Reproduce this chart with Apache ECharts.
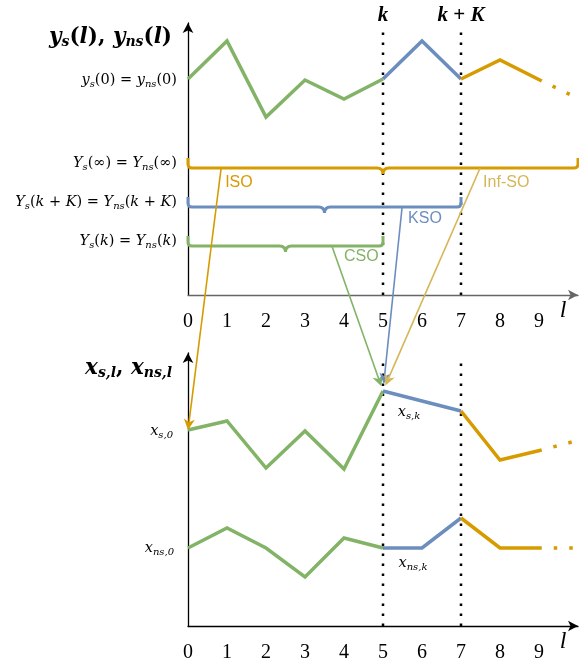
<!DOCTYPE html>
<html><head><meta charset="utf-8">
<script src="https://cdn.jsdelivr.net/npm/echarts@6/dist/echarts.min.js"></script>
<style>html,body{margin:0;padding:0;background:#fff}#c{width:579px;height:667px}</style>
</head><body><div id="c"></div>
<script>
// ---------------- data ----------------
const lSteps   = [0, 1, 2, 3, 4, 5, 6, 7, 8, 9.07];
const yOut     = [10.8, 12.7, 8.9, 10.75, 9.8, 10.8, 12.7, 10.8, 11.75, 10.7];   // y_s(l) = y_ns(l)
const xState   = [9.8, 10.25, 7.9, 9.75, 7.85, 11.75, 11.25, 10.75, 8.3, 8.8];   // x_{s,l}
const xnsState = [3.9, 4.9, 3.9, 2.45, 4.4, 3.9, 3.9, 5.4, 3.9, 3.9];            // x_{ns,l}
const tailL    = [9.82, 9.9, 9.9];      // end of the dotted continuation
const tailV    = [10.0, 9.23, 3.9];
const tickLabels = ['0','1','2','3','4','5','6','7','8','9'];
const kStep = 5, kKStep = 7;
const markerL = [5, 7];
const markerText = ['{b|k}', '{b|k}{br| + }{b|K}'];

const braceNames = ['ISO', 'KSO', 'CSO'];
const braceFrom  = [0, 0, 0];
const braceTo    = [10, 7, 5];
const braceLevel = [6.35, 4.4, 2.45];
const braceText  = [
  '{i|Y}{s|s}{r|(∞) = }{i|Y}{s|ns}{r|(∞)}',
  '{i|Y}{s|s}{r|(}{i|k}{r| + }{i|K}{r|) = }{i|Y}{s|ns}{r|(}{i|k}{r| + }{i|K}{r|)}',
  '{i|Y}{s|s}{r|(}{i|k}{r|) = }{i|Y}{s|ns}{r|(}{i|k}{r|)}'
];

const arrowNames     = ['ISO', 'CSO', 'KSO', 'Inf-SO'];
const arrowFromL     = [0.85, 3.69, 5.49, 7.49];
const arrowFromLevel = [6.35, 2.45, 4.4, 6.35];
const arrowToL       = [0, 5, 5, 5];
const arrowToV       = [9.8, 11.75, 11.75, 11.75];

// ---------------- styles ----------------
const GREEN = '#82b366', BLUE = '#6c8ebf', ORANGE = '#d79b00', TAN = '#d6b656';
const SERIF = "'Liberation Serif','DejaVu Serif',serif";
const MATH = "'DejaVu Serif','Liberation Serif',serif";
const SANS = "'Liberation Sans','DejaVu Sans',sans-serif";
const braceColor = {ISO: ORANGE, KSO: BLUE, CSO: GREEN};
const arrowStyle = {
  'ISO':    {color: ORANGE, dx: 4,  dy: 15, gap: 0},
  'CSO':    {color: GREEN,  dx: 12, dy: 11, gap: 5},
  'KSO':    {color: BLUE,   dx: 6,  dy: 12, gap: 7},
  'Inf-SO': {color: TAN,    dx: 3,  dy: 15, gap: 6}
};
function mathRich(size, sub, bold, fam) {
  const w = bold ? 'bold' : 'normal';
  const f = fam || MATH;
  return {
    i: {fontFamily: f, fontStyle: 'italic', fontWeight: w, fontSize: size, lineHeight: size + 4, color: '#000'},
    r: {fontFamily: f, fontWeight: w, fontSize: size, lineHeight: size + 4, color: '#000'},
    s: {fontFamily: f, fontStyle: 'italic', fontWeight: w, fontSize: sub, lineHeight: sub - 1, verticalAlign: 'bottom', color: '#000'},
    b: {fontFamily: f, fontStyle: 'italic', fontWeight: 'bold', fontSize: size, color: '#000'},
    br: {fontFamily: f, fontWeight: 'bold', fontSize: size, color: '#000'}
  };
}
const richSmall = mathRich(14.5, 10, false);
const richTitle = mathRich(21.5, 14, true);
const richK = mathRich(21, 13, true, SERIF);

const chart = echarts.init(document.getElementById('c'), null, {renderer: 'canvas'});

function seg(vals, a, b) { return lSteps.slice(a, b + 1).map((l, i) => [l, vals[a + i]]); }
function curveSeries(vals, c, gi) {
  const base = {type: 'line', xAxisIndex: gi, yAxisIndex: gi, symbol: 'none', silent: true, z: 3};
  const ls = (col) => ({color: col, width: 3.5, cap: 'butt', join: 'miter'});
  const last = lSteps.length - 1;
  return [
    Object.assign({}, base, {data: seg(vals, 0, kStep), lineStyle: ls(GREEN)}),
    Object.assign({}, base, {data: seg(vals, kStep, kKStep), lineStyle: ls(BLUE)}),
    Object.assign({}, base, {data: seg(vals, kKStep, last), lineStyle: ls(ORANGE)}),
    Object.assign({}, base, {data: [[lSteps[last], vals[last]], [tailL[c], tailV[c]]],
      lineStyle: Object.assign(ls(ORANGE), {type: [3.5, 12], dashOffset: 3.5})})
  ];
}

function markerSeries(gi, withText) {
  return {
    type: 'custom', xAxisIndex: gi, yAxisIndex: gi, silent: true, clip: false, z: 2,
    data: markerL.map(l => [l, 0]),
    renderItem(params, api) {
      const p = api.coord([api.value(0), 0]);
      const top = params.coordSys.y + 5;
      const ch = [{type: 'line', shape: {x1: p[0], y1: p[1], x2: p[0], y2: top},
        style: {stroke: '#000', lineWidth: 2.5, lineDash: [2.5, 7.5]}}];
      if (withText) ch.push({type: 'text', x: p[0], y: params.coordSys.y - 7,
        style: {text: markerText[params.dataIndex], rich: richK, align: 'center', verticalAlign: 'middle'}});
      return {type: 'group', children: ch};
    }
  };
}

function notesSeries(gi, notes) {
  return {
    type: 'custom', xAxisIndex: gi, yAxisIndex: gi, silent: true, clip: false, z: 5,
    data: notes.map(n => [n.l, n.v]),
    renderItem(params, api) {
      const n = notes[params.dataIndex];
      const p = api.coord([api.value(0), api.value(1)]);
      return {type: 'text', x: p[0] + n.dx, y: p[1] + n.dy,
        style: {text: n.text, rich: richSmall, align: n.align, verticalAlign: 'middle'}};
    }
  };
}

const braceSeries = {
  type: 'custom', xAxisIndex: 0, yAxisIndex: 0, silent: true, clip: false, z: 4,
  data: braceNames.map((n, i) => [braceFrom[i], braceTo[i], braceLevel[i]]),
  encode: {x: [0, 1], y: 2},
  renderItem(params, api) {
    const i = params.dataIndex;
    const a = api.coord([api.value(0), api.value(2)]);
    const b = api.coord([api.value(1), api.value(2)]);
    const y = a[1], x0 = a[0], x1 = b[0], xm = (x0 + x1) / 2;
    const h = 10, r = 4, c = 6;
    const d = `M${x0} ${y - h} L${x0} ${y - r} Q${x0} ${y} ${x0 + r} ${y} L${xm - c} ${y} Q${xm} ${y} ${xm} ${y + c} ` +
              `Q${xm} ${y} ${xm + c} ${y} L${x1 - r} ${y} Q${x1} ${y} ${x1} ${y - r} L${x1} ${y - h}`;
    return {type: 'group', children: [
      {type: 'path', shape: {pathData: d}, style: {stroke: braceColor[braceNames[i]], fill: 'none', lineWidth: 3}},
      {type: 'text', x: x0 - 11, y: y - 5, style: {text: braceText[i], rich: richSmall, align: 'right', verticalAlign: 'middle'}}
    ]};
  }
};

const arrowSeries = {
  type: 'custom', xAxisIndex: 1, yAxisIndex: 1, silent: true, clip: false, z: 10,
  data: arrowNames.map((n, i) => [arrowToL[i], arrowToV[i]]),
  renderItem(params, api) {
    const i = params.dataIndex;
    const st = arrowStyle[arrowNames[i]];
    const to = api.coord([api.value(0), api.value(1)]);
    const from = chart.convertToPixel({gridIndex: 0}, [arrowFromL[i], arrowFromLevel[i]]);
    if (!from) return;
    const dx = to[0] - from[0], dy = to[1] - from[1];
    const len = Math.sqrt(dx * dx + dy * dy);
    const ux = dx / len, uy = dy / len, nx = -uy, ny = ux;
    const tip = [to[0] - ux * st.gap, to[1] - uy * st.gap];
    const hl = 11, hw = 5.5;
    const back = [tip[0] - ux * hl, tip[1] - uy * hl];
    const notch = [tip[0] - ux * hl * 0.7, tip[1] - uy * hl * 0.7];
    return {type: 'group', children: [
      {type: 'line', shape: {x1: from[0], y1: from[1], x2: notch[0], y2: notch[1]}, style: {stroke: st.color, lineWidth: 1.6}},
      {type: 'polygon', shape: {points: [tip, [back[0] + nx * hw, back[1] + ny * hw], notch, [back[0] - nx * hw, back[1] - ny * hw]]},
        style: {fill: st.color}},
      {type: 'text', x: from[0] + st.dx, y: from[1] + st.dy,
        style: {text: arrowNames[i], fill: st.color, font: `16px ${SANS}`, align: 'left', verticalAlign: 'middle'}}
    ]};
  }
};

function xAxisCfg(gi, color) {
  return {
    type: 'value', gridIndex: gi, min: 0, max: 10, interval: 1,
    axisLine: {show: true, onZero: false, symbol: ['none', 'arrow'], symbolSize: [8, 10], lineStyle: {color: color, width: 1.3}},
    axisTick: {show: false}, splitLine: {show: false},
    axisLabel: {show: true, margin: 17, color: '#000', fontFamily: SERIF, fontSize: 20,
      formatter: v => (v < tickLabels.length ? tickLabels[v] : ''), showMaxLabel: false},
    name: 'l', nameLocation: 'end', nameGap: -15,
    nameTextStyle: {fontFamily: SERIF, fontStyle: 'italic', fontSize: 24, color: '#000', align: 'center', verticalAlign: 'top', padding: [4, 0, 0, 0]}
  };
}
function yAxisCfg(gi, max, name, gap) {
  return {
    type: 'value', gridIndex: gi, min: 0, max: max,
    axisLine: {show: true, onZero: false, symbol: ['none', 'arrow'], symbolSize: [8, 10], lineStyle: {color: '#000', width: 1.3}},
    axisTick: {show: false}, splitLine: {show: false}, axisLabel: {show: false},
    name: name, nameLocation: 'end', nameGap: gap,
    nameTextStyle: {rich: richTitle, align: 'right', verticalAlign: 'middle', padding: [0, 16, 0, 0]}
  };
}

const option = {
  animation: false,
  backgroundColor: '#fff',
  grid: [
    {left: 188, top: 23, width: 390, height: 272, outerBoundsMode: 'none'},
    {left: 188, top: 353, width: 390, height: 273, outerBoundsMode: 'none'}
  ],
  xAxis: [xAxisCfg(0, '#666'), xAxisCfg(1, '#000')],
  yAxis: [
    yAxisCfg(0, 13.6, '{i|y}{s|s}{r|(}{i|l}{r|), }{i|y}{s|ns}{r|(}{i|l}{r|)}', -14),
    yAxisCfg(1, 13.65, '{i|x}{s|s,l}{r|, }{i|x}{s|ns,l}', -15)
  ],
  series: [
    markerSeries(0, true), markerSeries(1, false),
    ...curveSeries(yOut, 0, 0),
    ...curveSeries(xState, 1, 1),
    ...curveSeries(xnsState, 2, 1),
    braceSeries,
    notesSeries(0, [{l: lSteps[0], v: yOut[0], dx: -11, dy: 1, align: 'right', text: '{i|y}{s|s}{r|(0) = }{i|y}{s|ns}{r|(0)}'}]),
    notesSeries(1, [
      {l: lSteps[0], v: xState[0], dx: -15, dy: 1, align: 'right', text: '{i|x}{s|s,0}'},
      {l: lSteps[0], v: xnsState[0], dx: -14, dy: 0, align: 'right', text: '{i|x}{s|ns,0}'},
      {l: lSteps[kStep], v: xState[kStep], dx: 26, dy: 21, align: 'center', text: '{i|x}{s|s,k}'},
      {l: lSteps[kStep], v: xnsState[kStep], dx: 30, dy: 15, align: 'center', text: '{i|x}{s|ns,k}'}
    ])
  ]
};
chart.setOption(option);
chart.setOption({series: option.series.concat([arrowSeries])});
</script>
</body></html>
